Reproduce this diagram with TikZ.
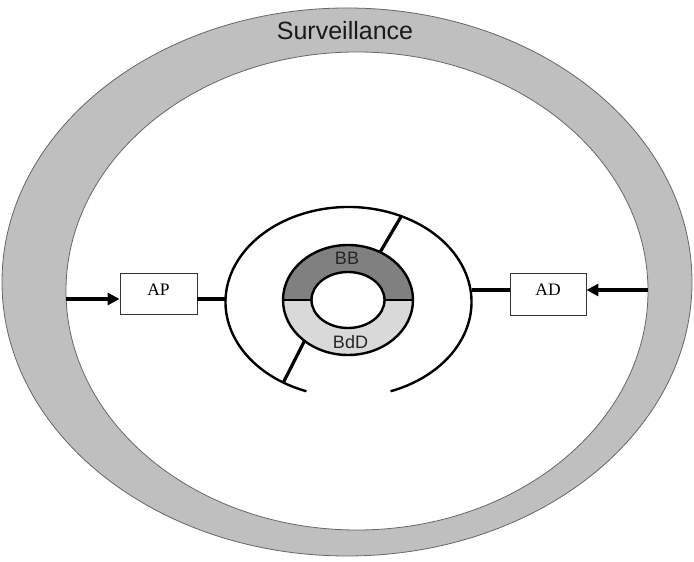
\documentclass[tikz,border=0pt]{standalone}
\usepackage{fontspec}
\setmainfont{Liberation Serif}
\setsansfont{Liberation Sans}
\usetikzlibrary{arrows.meta}

\begin{document}
\begin{tikzpicture}[
	x=1pt, y=1pt,
	font=\sffamily,
	band/.style={
		draw=black!60,
		line width=0.8pt,
		fill=black!25
	},
	field/.style={
		draw=black!60,
		line width=0.8pt,
		fill=white
	},
	ringline/.style={
		draw=black,
		line width=2.4pt
	},
	spoke/.style={
		draw=black,
		line width=3.2pt
	},
	feed/.style={
		draw=black,
		line width=3.6pt,
		-{Triangle[length=12pt,width=12pt]}
	},
	unit/.style={
		draw=black!80,
		line width=0.9pt,
		fill=white,
		minimum width=77pt,
		minimum height=41pt,
		text depth=8pt,
		font=\rmfamily\fontsize{17.5}{20}\selectfont
	},
	ringlabel/.style={
		text=black!85,
		font=\sffamily\fontsize{18}{20}\selectfont
	}
	]
	
	\useasboundingbox (0,0) rectangle (694,562);
	
	% surveillance band
	\path[band] (347,280) ellipse [x radius=345, y radius=274];
	\path[field] (357,271) ellipse [x radius=291, y radius=239];
	\node[font=\sffamily\fontsize{25}{28}\selectfont, text=black!90] (surv) at (345,531) {Surveillance};
	
	\coordinate (ring) at (348,262);
	\coordinate (arc) at (348.5,260);
	
	% spokes between ring and open arc
	\coordinate (ringNE) at (380.1,309.8);
	\coordinate (arcNE) at (401.3,345.8);
	\coordinate (ringSW) at (304.5,221.1);
	\coordinate (arcSW) at (283.3,179.4);
	\draw[spoke] (ringNE) -- (arcNE);
	\draw[spoke] (ringSW) -- (arcSW);
	
	% open arc
	\draw[ringline] (390.57,170.73) arc [start angle=-70, end angle=250, x radius=123, y radius=95];
	
	% BB / BdD ring
	\fill[black!15] (ring) ellipse [x radius=65, y radius=55];
	\fill[black!50] (283,262) arc [start angle=180, end angle=0, x radius=65, y radius=55]
		-- (384.5,262) arc [start angle=0, end angle=180, x radius=36.5, y radius=28] -- cycle;
	\draw[ringline] (ring) ellipse [x radius=65, y radius=55];
	\draw[ringline, fill=white] (ring) ellipse [x radius=36.5, y radius=28];
	\draw[ringline] (283,262) -- (311.5,262);
	\draw[ringline] (384.5,262) -- (413,262);
	\node[ringlabel] (bb) at (347,304) {BB};
	\node[ringlabel] (bdd) at (350.5,220) {BdD};
	
	% AP and AD
	\node[unit] (ap) at (158.5,268.5) {AP};
	\node[unit, minimum width=76pt, minimum height=42pt] (ad) at (548,268) {AD};
	
	\coordinate (apsrc) at (66,263);
	\coordinate (arcW) at (225.5,263);
	\coordinate (arcE) at (471.5,272);
	\coordinate (adsrc) at (648,272);
	
	\draw[feed] (apsrc) -- (apsrc -| ap.west);
	\draw[spoke] (ap.east |- apsrc) -- (arcW);
	\draw[spoke] (arcE) -- (arcE -| ad.west);
	\draw[feed] (adsrc) -- (adsrc -| ad.east);
\end{tikzpicture}
\end{document}
